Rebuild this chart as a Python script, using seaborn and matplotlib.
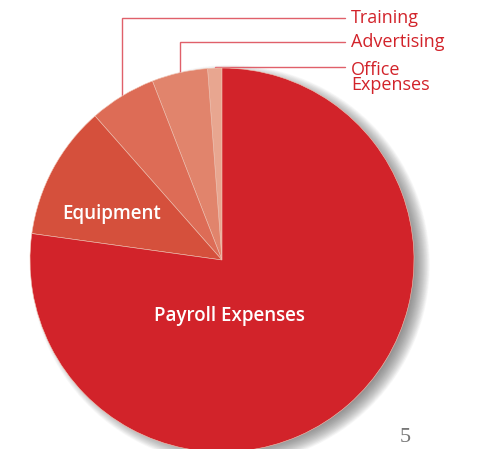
import numpy as np
import matplotlib
matplotlib.use('Agg')
import matplotlib.pyplot as plt
from matplotlib.patches import Circle
import seaborn as sns

sns.set_style('white')
plt.rcParams['font.family'] = ['Open Sans', 'DejaVu Sans']

# budget shares (percent), counter-clockwise from 12 o'clock
categories = ['Office\nExpenses', 'Advertising', 'Training', 'Equipment', 'Payroll Expenses']
shares = [1.2, 4.7, 5.6, 11.3, 77.2]
slice_colors = ['#E8A690', '#E1846C', '#DD6C56', '#D5503C', '#D2232A']

# which slices get a label outside with a leader line, and where the label row sits
outside = {'Training': 1.26, 'Advertising': 1.135, 'Office\nExpenses': 1.005}
label_red = '#D2232A'

fig = plt.figure(figsize=(4.84, 4.49), dpi=100)
ax = fig.add_axes([0, 0, 1, 1])

# soft grey shadow to the right
for k in range(24):
    ax.add_patch(Circle((0.042, -0.025), 0.96 + k * 0.0035, color='#555555',
                        alpha=0.035, lw=0, zorder=0))

wedges, _ = ax.pie(shares, colors=sns.color_palette(slice_colors), startangle=90,
                   counterclock=True, radius=1.0,
                   wedgeprops=dict(edgecolor='#F2C4B4', linewidth=0.4, zorder=2))

# pie() resets the limits, so set the page frame afterwards
ax.set_xlim(-222 / 192, 262 / 192)
ax.set_ylim(-189 / 192, 260 / 192)
ax.set_aspect('equal')
ax.axis('off')

x_line_end = (345 - 222) / 192
for w, name in zip(wedges, categories):
    mid = np.deg2rad((w.theta1 + w.theta2) / 2)
    xm, ym = np.cos(mid), np.sin(mid)
    if name in outside:
        yl = outside[name]
        ax.plot([xm, xm, x_line_end], [ym, yl, yl], color='#E0606A', lw=1.0,
                solid_joinstyle='miter', zorder=1, clip_on=False)
        ax.text(x_line_end + 0.03, yl + (0.034 if '\n' in name else 0.0), name,
                color=label_red, fontsize=13,
                ha='left', va='top' if '\n' in name else 'center',
                linespacing=0.82, zorder=3)

# labels inside the two big slices
ax.text((112 - 222) / 192, (260 - 214) / 192, 'Equipment', color='white',
        fontsize=13.5, ha='center', va='center', fontweight='semibold', zorder=3)
ax.text((229 - 222) / 192, (260 - 316) / 192, 'Payroll Expenses', color='white',
        fontsize=13.5, ha='center', va='center', fontweight='semibold', zorder=3)

# page number
fig.text(405 / 484, 1 - 438 / 449, '5', color='#777777', fontsize=16,
         family='Liberation Serif', ha='center', va='center')

fig.savefig('out.png', dpi=100)
